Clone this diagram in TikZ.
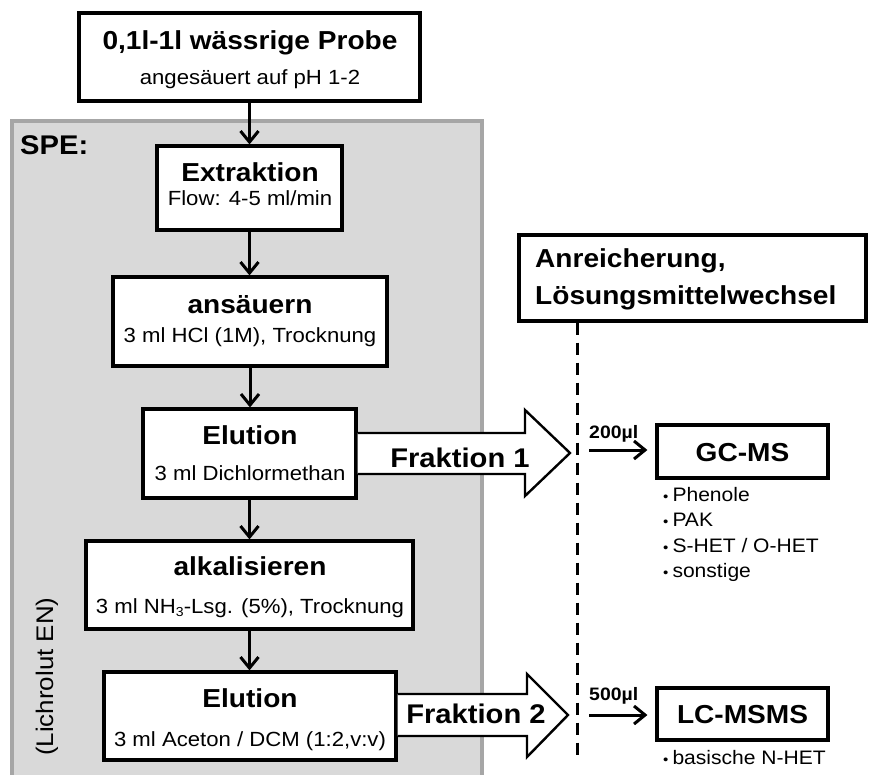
\documentclass[tikz,border=0pt]{standalone}
\usepackage{fontspec}
\setmainfont{Liberation Sans}[FakeStretch=1.08]
\usetikzlibrary{arrows.meta,calc}
\definecolor{panelfill}{HTML}{D9D9D9}
\definecolor{panelline}{HTML}{A6A6A6}
\begin{document}
\begin{tikzpicture}[x=1pt,y=-1pt,
  box/.style={draw, line width=3.2pt, fill=white, inner sep=0pt},
  ttl/.style={font=\fontsize{26}{30}\selectfont\bfseries, anchor=base, inner sep=0pt},
  subt/.style={font=\fontsize{20.5}{24}\selectfont, anchor=base, inner sep=0pt},
  bul/.style={font=\fontsize{19.5}{22}\selectfont, anchor=base west, inner sep=0pt},
  vol/.style={font=\fontsize{18}{20}\selectfont\bfseries, anchor=base west, inner sep=0pt},
  flow/.style={line width=3pt, -{Straight Barb[length=11pt,width=18pt]}},
  barrow/.style={draw, fill=white, line width=2.4pt, line join=miter},
  sep/.style={line width=3pt, dash pattern=on 12pt off 8pt}
]
\useasboundingbox (0,0) rectangle (869,775);
% SPE panel
\filldraw[fill=panelfill, draw=panelline, line width=3.5pt] (12,121) rectangle (482,800);
\node[font=\fontsize{27}{30}\selectfont\bfseries, anchor=base west, inner sep=0pt] (spe) at (20,155) {SPE:};
\node[font=\fontsize{24}{28}\selectfont, anchor=base west, inner sep=0pt, rotate=90] (lich) at (53,756) {(Lichrolut EN)};

% boxes
\node[box, minimum width=341pt, minimum height=88pt] (probe) at (249.5,57) {};
\node[ttl] (probeT) at (250,50) {0,1l-1l wässrige Probe};
\node[subt] (probeS) at (250,85) {angesäuert auf pH 1-2};

\node[box, minimum width=185pt, minimum height=84pt] (extr) at (249.5,188) {};
\node[ttl] (extrT) at (250,182) {Extraktion};
\node[subt] (extrS) at (250,206) {Flow: 4-5 ml/min};

\node[box, minimum width=274pt, minimum height=89pt] (ans) at (250,321.5) {};
\node[ttl] (ansT) at (250,313) {ansäuern};
\node[subt] (ansS) at (250,342) {3 ml HCl (1M), Trocknung};

\node[box, minimum width=213pt, minimum height=89pt] (el1) at (249.5,453.5) {};
\node[ttl] (el1T) at (250,444) {Elution};
\node[subt] (el1S) at (250,480) {3 ml Dichlormethan};

\node[box, minimum width=327pt, minimum height=88pt] (alk) at (249.5,585) {};
\node[ttl] (alkT) at (250,575) {alkalisieren};
\node[subt] (alkS) at (250,613) {3 ml NH\raisebox{-3.5pt}{\fontsize{13}{13}\selectfont 3}-Lsg. (5\%), Trocknung};

\node[box, minimum width=292pt, minimum height=88pt] (el2) at (250,716) {};
\node[ttl] (el2T) at (250,707) {Elution};
\node[subt] (el2S) at (250,746) {3 ml Aceton / DCM (1:2,v:v)};

% vertical flow
\draw[flow] (probe.south) -- (probe.south |- extr.north);
\draw[flow] (extr.south) -- (extr.south |- ans.north);
\draw[flow] (ans.south) -- (ans.south |- el1.north);
\draw[flow] (el1.south) -- (el1.south |- alk.north);
\draw[flow] (alk.south) -- (alk.south |- el2.north);

% right side
\node[box, minimum width=347pt, minimum height=86pt] (anr) at (692.5,278) {};
\node[ttl, anchor=base west] (anrT1) at (535,268) {Anreicherung,};
\node[ttl, anchor=base west] (anrT2) at (535,305) {Lösungsmittelwechsel};
\coordinate (dashend) at (577,758);
\draw[sep] (anr.south -| dashend) -- (dashend);

% block arrows
\draw[barrow] (el1.east |- 0,433) -- (525,433) -- (525,410) -- (570,453) -- (525,496) -- (525,474) -- (el1.east |- 0,474);
\node[font=\fontsize{27}{30}\selectfont\bfseries, anchor=base, inner sep=0pt] (fr1) at (460,467) {Fraktion 1};
\draw[barrow] (el2.east |- 0,694) -- (527,694) -- (527,674) -- (568,715) -- (527,757) -- (527,736) -- (el2.east |- 0,736);
\node[font=\fontsize{27}{30}\selectfont\bfseries, anchor=base, inner sep=0pt] (fr2) at (476,723) {Fraktion 2};

% GC-MS
\node[box, minimum width=171pt, minimum height=53pt] (gc) at (742.5,451.5) {};
\node[ttl] (gcT) at (742.5,461) {GC-MS};
\coordinate (a1s) at (589,450);
\draw[flow, shorten >=8pt] (a1s) -- (a1s -| gc.west);
\node[vol] (v1) at (589,438) {200µl};
\node[bul] (b1) at (663,501) {{\fontsize{14}{14}\selectfont •}\hspace{4pt}Phenole};
\node[bul] (b2) at (663,526) {{\fontsize{14}{14}\selectfont •}\hspace{4pt}PAK};
\node[bul] (b3) at (663,552) {{\fontsize{14}{14}\selectfont •}\hspace{4pt}S-HET / O-HET};
\node[bul] (b4) at (663,577) {{\fontsize{14}{14}\selectfont •}\hspace{4pt}sonstige};

% LC-MSMS
\node[box, minimum width=171pt, minimum height=52pt] (lc) at (742.5,714) {};
\node[ttl] (lcT) at (742.5,723) {LC-MSMS};
\coordinate (a2s) at (589,715);
\draw[flow, shorten >=8pt] (a2s) -- (a2s -| lc.west);
\node[vol] (v2) at (589,700) {500µl};
\node[bul] (b5) at (663,764) {{\fontsize{14}{14}\selectfont •}\hspace{4pt}basische N-HET};
\end{tikzpicture}
\end{document}
